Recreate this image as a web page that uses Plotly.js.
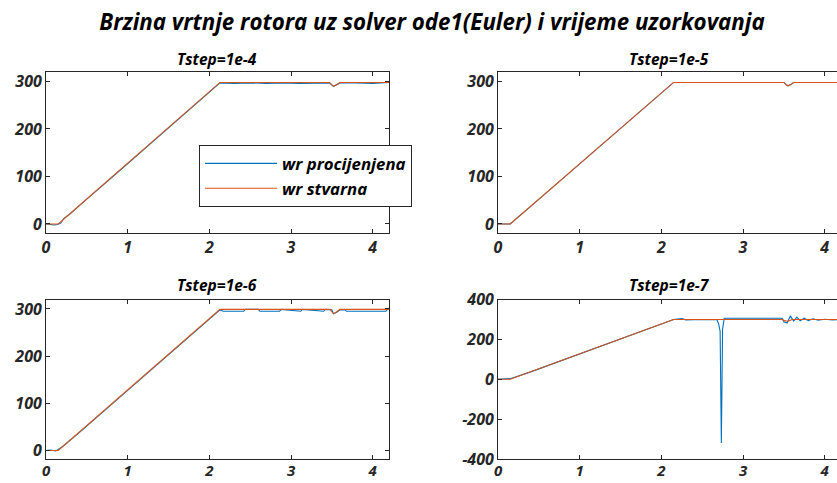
<!DOCTYPE html>
<html>
<head>
<meta charset="utf-8">
<script src="https://cdn.plot.ly/plotly-3.0.1.min.js"></script>
<style>html,body{margin:0;padding:0;overflow:hidden;background:#fff;}#chart{width:842px;height:483px;}</style>
</head>
<body>
<div id="chart"></div>
<script>
// ---- data ----
var mainTitle = "Brzina vrtnje rotora uz solver ode1(Euler) i vrijeme uzorkovanja";
var subTitles = ["Tstep=1e-4", "Tstep=1e-5", "Tstep=1e-6", "Tstep=1e-7"];
var seriesNames = ["wr procijenjena", "wr stvarna"];
var xTicks = [0, 1, 2, 3, 4];
var yTicksA = [0, 100, 200, 300];
var yTicksB = [-400, -200, 0, 200, 400];

// Tstep = 1e-4
var est4_t = [0, 0.05, 0.10, 0.14, 0.18, 0.22, 0.30, 0.45, 0.60, 0.90, 1.20, 1.50, 1.80, 2.13, 2.30, 2.50, 2.70, 2.90, 3.10, 3.30, 3.47, 3.52, 3.60, 3.80, 4.00, 4.20];
var est4_v = [0, -1, -2, -1, 2, 12, 22, 45, 68, 112, 157, 202, 247, 297, 296, 297, 296, 297, 296, 297, 297, 290, 297, 297, 296, 298];
var real4_t = [0, 0.15, 2.13, 3.47, 3.50, 3.52, 3.56, 3.60, 4.20];
var real4_v = [0, 0, 298, 298, 293, 290, 293, 298, 298];

// Tstep = 1e-5
var est5_t = [0, 0.15, 0.40, 0.80, 1.20, 1.60, 2.00, 2.15, 2.60, 3.00, 3.50, 3.53, 3.55, 3.58, 3.62, 4.20];
var est5_v = [0, 0, 37, 97, 157, 217, 277, 298, 298, 298, 298, 293, 291, 293, 298, 298];
var real5_t = [0, 0.15, 2.15, 3.50, 3.53, 3.55, 3.58, 3.62, 4.20];
var real5_v = [0, 0, 298, 298, 293, 291, 293, 298, 298];

// Tstep = 1e-6
var est6_t = [0, 0.06, 0.12, 0.16, 0.20, 0.40, 0.80, 1.20, 1.60, 2.00, 2.13, 2.17, 2.42, 2.44, 2.60, 2.62, 2.86, 2.88, 3.12, 3.14, 3.40, 3.42, 3.50, 3.52, 3.56, 3.60, 3.66, 3.68, 4.16, 4.20];
var est6_v = [0, 1, -1, 3, 8, 37, 97, 157, 217, 277, 298, 295, 295, 299, 299, 295, 295, 299, 295, 299, 295, 299, 298, 290, 293, 298, 298, 295, 295, 302];
var real6_t = [0, 0.15, 2.13, 3.48, 3.50, 3.52, 3.56, 3.60, 4.20];
var real6_v = [0, 0, 299, 299, 294, 290, 294, 299, 299];

// Tstep = 1e-7
var est7_t = [0, 0.08, 0.15, 0.40, 0.80, 1.20, 1.60, 2.00, 2.15, 2.25, 2.30, 2.50, 2.68, 2.70, 2.72, 2.735, 2.75, 2.77, 2.80, 3.00, 3.48, 3.50, 3.54, 3.58, 3.62, 3.66, 3.70, 3.75, 3.80, 3.86, 3.92, 4.00, 4.10, 4.20];
var est7_v = [0, 2, 3, 37, 97, 157, 217, 277, 300, 304, 298, 300, 299, 280, 240, -320, 250, 306, 306, 306, 306, 288, 282, 318, 292, 312, 293, 306, 294, 303, 296, 301, 297, 300];
var real7_t = [0, 0.15, 2.15, 3.48, 3.51, 3.54, 3.57, 3.60, 4.20];
var real7_v = [0, 0, 300, 300, 294, 291, 294, 300, 300];

// ---- build figure ----
var BLUE = "#0072BD", ORANGE = "#D95319", AX = "#262626";
var FONT = "Open Sans, DejaVu Sans, sans-serif";
var est = [[est4_t, est4_v], [est5_t, est5_v], [est6_t, est6_v], [est7_t, est7_v]];
var real = [[real4_t, real4_v], [real5_t, real5_v], [real6_t, real6_v], [real7_t, real7_v]];
var axSuffix = ["", "2", "3", "4"];
var traces = [];
for (var i = 0; i < 4; i++) {
  traces.push({x: est[i][0], y: est[i][1], type: "scatter", mode: "lines", name: seriesNames[0],
    line: {color: BLUE, width: 1.1}, xaxis: "x" + axSuffix[i], yaxis: "y" + axSuffix[i], showlegend: i === 0, legendrank: 1});
  traces.push({x: real[i][0], y: real[i][1], type: "scatter", mode: "lines", name: seriesNames[1],
    line: {color: ORANGE, width: 1.1}, xaxis: "x" + axSuffix[i], yaxis: "y" + axSuffix[i], showlegend: i === 0, legendrank: 2});
}

var W = 842, H = 483;
var xDomL = [46 / W, 389 / W], xDomR = [498 / W, 841 / W];
var yDomT = [1 - 233 / H, 1 - 72 / H], yDomB = [1 - 459 / H, 1 - 299.5 / H];
var tickFont = {family: FONT, size: 16, color: AX, weight: "bold", style: "italic"};
var xTickFontBottom = {family: FONT, size: 15, color: AX, weight: "bold", style: "italic"};

function xax(dom, anchor, font, standoff) {
  return {domain: dom, anchor: anchor, range: [0, 4.2], tickvals: xTicks, ticktext: xTicks.map(String),
    ticks: "inside", ticklen: 4, tickcolor: AX, showline: true, linecolor: AX, linewidth: 1, mirror: "ticks",
    showgrid: false, zeroline: false, tickfont: font, ticklabelstandoff: standoff, fixedrange: true};
}
function yax(dom, anchor, range, vals) {
  return {domain: dom, anchor: anchor, range: range, tickvals: vals, ticktext: vals.map(String),
    ticks: "inside", ticklen: 4, tickcolor: AX, showline: true, linecolor: AX, linewidth: 1, mirror: "ticks",
    showgrid: false, zeroline: false, tickfont: tickFont, fixedrange: true};
}

var titleFont = {family: FONT, size: 15.5, color: "#000", weight: "bold", style: "italic"};
var layout = {
  width: W, height: H,
  margin: {l: 0, r: 0, t: 0, b: 0},
  paper_bgcolor: "#fff", plot_bgcolor: "#fff",
  title: {text: mainTitle, x: 432 / W, xanchor: "center", xref: "paper", y: 1 - 22 / H, yanchor: "middle",
    font: {family: FONT, size: 22.3, color: "#000", weight: "bold", style: "italic"}},
  xaxis: xax(xDomL, "y", tickFont, 0), yaxis: yax(yDomT, "x", [-19, 320], yTicksA),
  xaxis2: xax(xDomR, "y2", tickFont, 0), yaxis2: yax(yDomT, "x2", [-19, 320], yTicksA),
  xaxis3: xax(xDomL, "y3", xTickFontBottom, -2), yaxis3: yax(yDomB, "x3", [-18, 320], yTicksA),
  xaxis4: xax(xDomR, "y4", xTickFontBottom, -2), yaxis4: yax(yDomB, "x4", [-400, 400], yTicksB),
  showlegend: true,
  legend: {x: 199 / W, y: 1 - 145 / H, xanchor: "left", yanchor: "top", bgcolor: "#fff",
    bordercolor: AX, borderwidth: 1, font: {family: FONT, size: 16.8, color: "#000", weight: "bold", style: "italic"},
    traceorder: "normal", itemwidth: 72, tracegroupgap: 0},
  annotations: [
    {text: subTitles[0], x: (xDomL[0] + xDomL[1]) / 2, y: 1 - 59 / H},
    {text: subTitles[1], x: (xDomR[0] + xDomR[1]) / 2, y: 1 - 59 / H},
    {text: subTitles[2], x: (xDomL[0] + xDomL[1]) / 2, y: 1 - 285 / H},
    {text: subTitles[3], x: (xDomR[0] + xDomR[1]) / 2, y: 1 - 285 / H}
  ].map(function (a) {
    a.xref = "paper"; a.yref = "paper"; a.xanchor = "center"; a.yanchor = "middle"; a.showarrow = false; a.font = titleFont;
    return a;
  })
};

Plotly.newPlot("chart", traces, layout, {displayModeBar: false, staticPlot: true});
</script>
</body>
</html>
